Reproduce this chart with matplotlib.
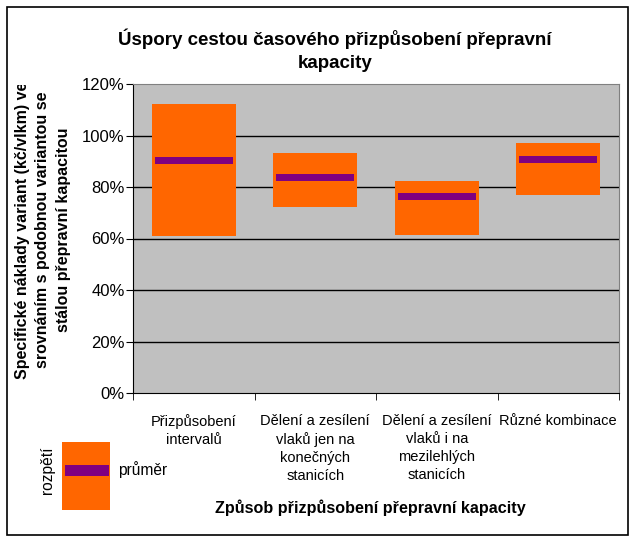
import matplotlib
matplotlib.use('Agg')
from matplotlib import pyplot as plt
from matplotlib.patches import Rectangle
from matplotlib.transforms import Bbox
import numpy as np

plt.rcParams['font.family'] = ['Liberation Sans', 'DejaVu Sans']

categories = ['Přizpůsobení\nintervalů',
              'Dělení a zesílení\nvlaků jen na\nkonečných\nstanicích',
              'Dělení a zesílení\nvlaků i na\nmezilehlých\nstanicích',
              'Různé kombinace']
range_low = [61.0, 72.3, 61.5, 77.0]
range_high = [112.2, 93.2, 82.3, 97.1]
mean_vals = [90.3, 83.8, 76.4, 90.7]
yticks = [0, 20, 40, 60, 80, 100, 120]

orange = '#FF6600'
purple = '#800080'

fig = plt.figure(figsize=(6.37, 5.44), dpi=100)
fig.patch.set_facecolor('white')
fig.patches.append(Rectangle((7 / 637, 1 - 535 / 544), 621 / 637, 528 / 544,
                             transform=fig.transFigure, fill=False,
                             edgecolor='black', linewidth=1.2))

ax = fig.add_axes([133 / 637, 1 - 393 / 544, 486 / 637, 309 / 544])
ax.set_facecolor('#C0C0C0')

x = np.arange(len(categories))
low = np.array(range_low)
high = np.array(range_high)
ax.bar(x, high - low, bottom=low, width=0.69, color=orange, zorder=3)
ax.bar(x, 2.8, bottom=np.array(mean_vals) - 1.4, width=0.64, color=purple, zorder=4)

ax.set_ylim(0, 120)
ax.set_xlim(-0.5, len(categories) - 0.5)
ax.set_yticks(yticks)
ax.set_yticklabels(['%d%%' % v for v in yticks], fontsize=12)
for v in yticks[1:-1]:
    ax.axhline(v, color='black', linewidth=1, zorder=2)

ax.set_xticks(x)
ax.set_xticklabels(categories, fontsize=10.5, linespacing=1.37, va='top')
ax.set_xticks(np.arange(len(categories) + 1) - 0.5, minor=True)
ax.tick_params(axis='x', which='major', length=0, pad=15)
ax.tick_params(axis='x', which='minor', length=5, direction='out')
ax.tick_params(axis='y', length=5, direction='out', pad=1)

ax.spines['left'].set_color('black')
ax.spines['bottom'].set_color('black')
ax.spines['top'].set_color('#808080')
ax.spines['right'].set_color('#808080')

fig.text(335 / 637, 1 - 50 / 544,
         'Úspory cestou časového přizpůsobení přepravní\nkapacity',
         ha='center', va='center', fontsize=13.5, fontweight='bold', linespacing=1.45)

ylab = fig.text(43 / 637, 1 - 230 / 544,
                'Specifické náklady variant (kč/vlkm) ve\nsrovnáním s podobnou variantou se\nstálou přepravní kapacitou',
                ha='center', va='center', rotation=90, fontsize=11.5, fontweight='bold',
                multialignment='center', linespacing=1.45)
ylab.set_clip_box(Bbox.from_extents(0, 0, 637, 544 - 85))
ylab.set_clip_on(True)

fig.text(370 / 637, 1 - 508 / 544, 'Způsob přizpůsobení přepravní kapacity',
         ha='center', va='center', fontsize=11.6, fontweight='bold')

# legend
fig.patches.append(Rectangle((62 / 637, 1 - 510 / 544), 48 / 637, 68 / 544,
                             transform=fig.transFigure, facecolor=orange, edgecolor='none'))
fig.patches.append(Rectangle((65 / 637, 1 - 476 / 544), 44 / 637, 11 / 544,
                             transform=fig.transFigure, facecolor=purple, edgecolor='none'))
fig.text(118 / 637, 1 - 470 / 544, 'průměr', ha='left', va='center', fontsize=11.2)
fig.text(48 / 637, 1 - 470 / 544, 'rozpětí', ha='center', va='center', rotation=90, fontsize=11.2)

fig.savefig('out.png', dpi=100)
